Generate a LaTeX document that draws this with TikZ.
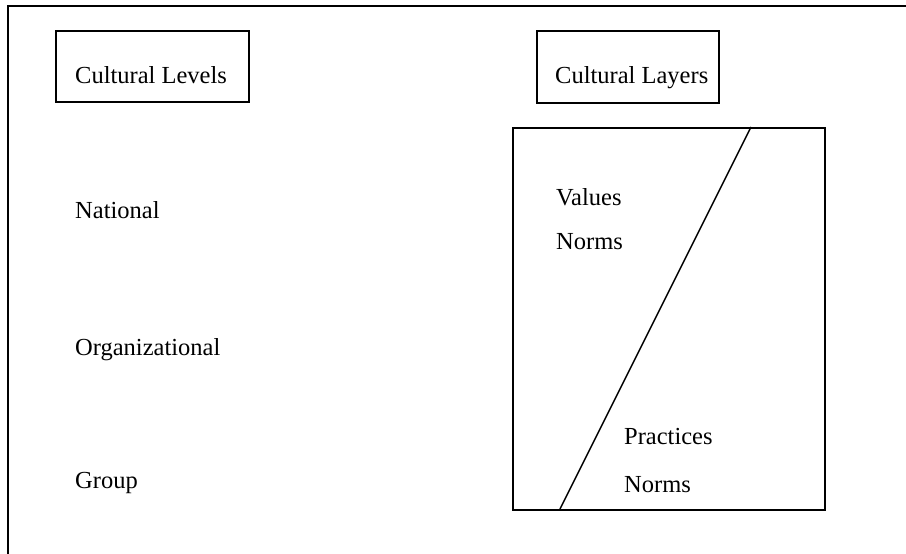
\documentclass[tikz,border=0pt]{standalone}
\usepackage{fontspec}
\setmainfont{Liberation Serif}
\begin{document}
\begin{tikzpicture}[x=1pt,y=-1pt,
  lbl/.style={anchor=base west,inner sep=0pt,font=\fontsize{24.5}{29}\selectfont},
  boxed/.style={draw,line width=1.5pt,anchor=north west,inner sep=0pt}]
\useasboundingbox (0,0) rectangle (906,554);
% outer frame
\coordinate (fbl) at (8,560);
\coordinate (ftl) at (8,6);
\coordinate (ftr) at (912,6);
\draw[line width=2pt] (fbl) -- (ftl) -- (ftr);
% header boxes
\node[boxed,minimum width=193pt,minimum height=71pt] (levbox) at (55,30) {};
\node[boxed,minimum width=182pt,minimum height=72pt] (laybox) at (536,30) {};
\node[lbl] (levtxt) at (75,83) {Cultural Levels};
\node[lbl] (laytxt) at (555,83) {Cultural Layers};
% levels
\node[lbl] (national) at (75,218) {National};
\node[lbl] (organizational) at (75,355) {Organizational};
\node[lbl] (group) at (75,488) {Group};
% layers box
\node[boxed,minimum width=312pt,minimum height=382pt] (bigbox) at (512,127) {};
\coordinate (dtop) at (751,127);
\coordinate (dbot) at (560,509);
\draw[line width=1.5pt] (dtop) -- (dbot);
\node[lbl] (values) at (556,205) {Values};
\node[lbl] (norms1) at (556,249) {Norms};
\node[lbl] (practices) at (624,444) {Practices};
\node[lbl] (norms2) at (624,492) {Norms};
\end{tikzpicture}
\end{document}
